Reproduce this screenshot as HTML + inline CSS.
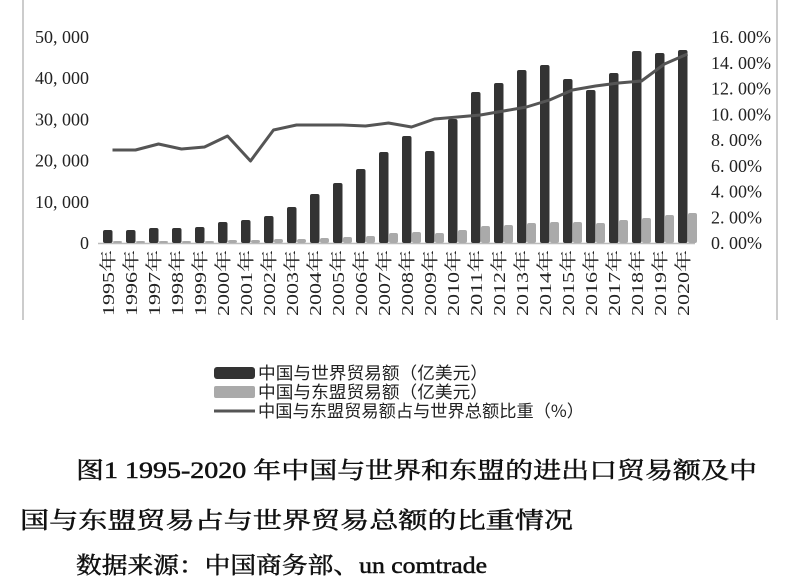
<!DOCTYPE html>
<html><head><meta charset="utf-8">
<style>
html,body{margin:0;padding:0;background:#fff;}
body{width:800px;height:588px;overflow:hidden;position:relative;}
</style></head><body>
<svg id="s" width="800" height="588" style="position:absolute;left:0;top:0" xmlns="http://www.w3.org/2000/svg"></svg>
<script>
const s=document.getElementById('s');let h='';
h+='<line x1="23" y1="0" x2="23" y2="320" stroke="#ccc" stroke-width="2"/>';
h+='<line x1="777" y1="0" x2="777" y2="320" stroke="#ccc" stroke-width="2"/>';
const lab=['50, 000','40, 000','30, 000','20, 000','10, 000','0'];
const ry=['16. 00%','14. 00%','12. 00%','10. 00%','8. 00%','6. 00%','4. 00%','2. 00%','0. 00%'];
for(let i=0;i<6;i++){let y=37+i*41.2;h+=`<text x="89" y="${y+6}" text-anchor="end" font-family="Liberation Serif,serif" font-size="18" fill="#222">${lab[i]}</text>`;}
for(let i=0;i<9;i++){let y=37+i*25.75;h+=`<text x="711" y="${y+6}" font-family="Liberation Serif,serif" font-size="18" fill="#222">${ry[i]}</text>`;}
const dk=[230,230,228,228,227,222,220,216,207,194,183,169,152,136,151,119,92,83,70,65,79,90,73,51,53,50];
const lt=[241,241,241,241,241,240,240,239,239,238,237,236,233,232,233,230,226,225,223,222,222,223,220,218,215,213];
const ln=[150,150,144,149,147,136,161,130,125,125,125,126,123,127,119,117,115,111,107,100,90,86,83,81,64,54];
h+='<line x1="98" y1="243.5" x2="695" y2="243.5" stroke="#bbb" stroke-width="1.5"/>';
let pts=[];
for(let i=0;i<26;i++){let x=103+i*23;
h+=`<rect x="${x}" y="${dk[i]}" width="9.5" height="${243-dk[i]}" rx="2" fill="#333"/>`;
h+=`<rect x="${x+10}" y="${lt[i]}" width="9" height="${243-lt[i]}" rx="2" fill="#aaa"/>`;
pts.push((x+9.5)+','+ln[i]);
h+=`<text transform="translate(${x+11},250) rotate(-90)" text-anchor="end" textLength="66" lengthAdjust="spacingAndGlyphs" font-family="Liberation Serif,'Noto Serif CJK SC',serif" font-size="17" fill="#222">${1995+i}年</text>`;}
h+=`<polyline points="${pts.join(' ')}" fill="none" stroke="#555" stroke-width="3" stroke-linejoin="round"/>`;
const L=['中国与世界贸易额（亿美元）','中国与东盟贸易额（亿美元）','中国与东盟贸易额占与世界总额比重（%）'];
const ly=[373,392,411];
h+='<rect x="214" y="367" width="41" height="12" rx="3" fill="#333"/>';
h+='<rect x="214" y="386" width="41" height="12" rx="2" fill="#aaa"/>';
h+='<line x1="214" y1="411" x2="255" y2="411" stroke="#555" stroke-width="3"/>';
const LW=[230,230,326];
for(let i=0;i<3;i++)h+=`<text x="258" y="${ly[i]+6}" textLength="${LW[i]}" lengthAdjust="spacingAndGlyphs" font-family="'Noto Sans CJK SC',sans-serif" font-size="17" fill="#222">${L[i]}</text>`;
const C=[[76,478,681,'图1 1995-2020 年中国与世界和东盟的进出口贸易额及中'],[20,528,553,'国与东盟贸易占与世界贸易总额的比重情况'],[76,573,411,'数据来源：中国商务部、un comtrade']];
for(const c of C)h+=`<text x="${c[0]}" y="${c[1]}" textLength="${c[2]}" lengthAdjust="spacingAndGlyphs" font-family="Liberation Serif,'Noto Serif CJK SC',serif" font-size="23" fill="#111" stroke="#111" stroke-width="0.5">${c[3]}</text>`;
s.innerHTML=h;
</script>
</body></html>
